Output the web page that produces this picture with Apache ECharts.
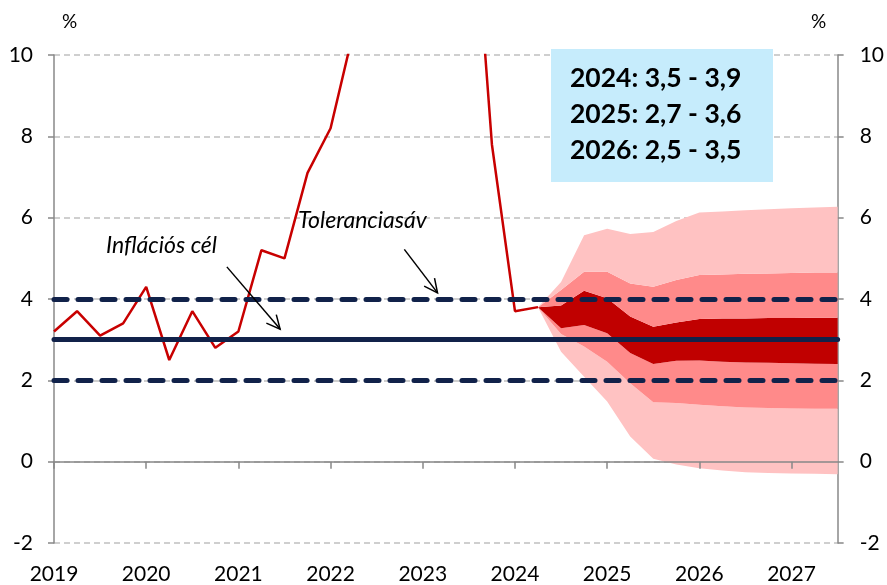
<!DOCTYPE html>
<html><head><meta charset="utf-8">
<script src="https://cdn.jsdelivr.net/npm/echarts@6.0.0/dist/echarts.min.js"></script>
<style>html,body{margin:0;padding:0;background:#fff}#c{width:887px;height:585px}</style>
</head><body><div id="c"></div>
<script>
// ---- Data ----
const categories = [
  '2019Q1','2019Q2','2019Q3','2019Q4','2020Q1','2020Q2','2020Q3','2020Q4',
  '2021Q1','2021Q2','2021Q3','2021Q4','2022Q1','2022Q2','2022Q3','2022Q4',
  '2023Q1','2023Q2','2023Q3','2023Q4','2024Q1','2024Q2','2024Q3','2024Q4',
  '2025Q1','2025Q2','2025Q3','2025Q4','2026Q1','2026Q2','2026Q3','2026Q4',
  '2027Q1','2027Q2','2027Q3'
];
const inflation = [3.2,3.7,3.1,3.4, 4.3,2.5,3.7,2.8, 3.2,5.2,5.0,7.1, 8.2,10.6,16.5,22.7,
                   25.4,21.9,15.4,7.8, 3.7,3.8];
const fanStartIndex = 21; // 2024Q2
const outerLow  = [3.8,2.70,2.09,1.48,0.62,0.07,-0.07,-0.16,-0.22,-0.26,-0.28,-0.29,-0.30,-0.31];
const midLow    = [3.8,3.14,2.83,2.46,1.93,1.46,1.44,1.40,1.36,1.33,1.32,1.31,1.30,1.30];
const darkLow   = [3.8,3.28,3.36,3.16,2.67,2.40,2.48,2.49,2.46,2.44,2.43,2.42,2.41,2.40];
const darkHigh  = [3.8,3.84,4.20,4.02,3.57,3.32,3.42,3.51,3.52,3.52,3.53,3.53,3.54,3.54];
const midHigh   = [3.8,4.22,4.67,4.67,4.38,4.30,4.47,4.59,4.60,4.62,4.63,4.64,4.65,4.65];
const outerHigh = [3.8,4.42,5.57,5.73,5.60,5.65,5.92,6.13,6.15,6.18,6.21,6.23,6.25,6.27];
const inflationTarget = 3;
const toleranceBand = [2, 4];
const yTicks = {min: -2, max: 10, interval: 2};
const forecastText = ['2024: 3,5 - 3,9', '2025: 2,7 - 3,6', '2026: 2,5 - 3,5'];

// ---- Build ----
const N = categories.length;
const pad = arr => { const out = new Array(N).fill(null); arr.forEach((v,i)=>{ out[fanStartIndex+i]=v; }); return out; };
const diff = (a,b) => a.map((v,i)=> +(v - b[i]).toFixed(3));
const lineData = categories.map((c,i)=> i < inflation.length ? inflation[i] : null);

const FONT = 'Lato';
const NAVY = '#11224A';
const LIGHT = '#FFC2C2', MED = '#FF8A8A', DARK = '#C00000';

function bandSeries(name, data, color) {
  return {
    name, type: 'line', stack: 'fan', stackStrategy: 'all', data: pad(data),
    symbol: 'none', lineStyle: {width: 0, opacity: 0},
    areaStyle: color ? {color, opacity: 1} : undefined,
    z: 2, silent: true, animation: false
  };
}

const chart = echarts.init(document.getElementById('c'), null, {renderer: 'canvas'});
const option = {
  animation: false,
  grid: {left: 54, right: 49, top: 55, bottom: 41},
  xAxis: [{
    type: 'category', data: categories, boundaryGap: false, z: 4,
    axisLine: {show: true, onZero: true, lineStyle: {color: '#888888', width: 1.5}},
    axisTick: {show: true, length: 7, inside: false, interval: i => i % 4 === 0, lineStyle: {color: '#888888', width: 1.5}},
    axisLabel: {show: false}, splitLine: {show: false}
  }, {
    type: 'category', data: categories, boundaryGap: false, position: 'bottom',
    axisLine: {show: false, onZero: false}, axisTick: {show: false}, splitLine: {show: false},
    axisLabel: {show: true, interval: i => i % 4 === 0, formatter: v => v.slice(0,4),
      fontFamily: FONT, fontSize: 21, color: '#000', margin: 21}
  }],
  yAxis: [{
    type: 'value', position: 'left', min: yTicks.min, max: yTicks.max, interval: yTicks.interval,
    axisLine: {show: true, lineStyle: {color: '#888888', width: 1.5}},
    axisTick: {show: true, length: 6, lineStyle: {color: '#888888', width: 1.5}},
    axisLabel: {fontFamily: FONT, fontSize: 21, color: '#000', margin: 21},
    splitLine: {show: true, lineStyle: {color: '#C0C0C0', width: 1.5, type: [6,4]}}
  }, {
    type: 'value', position: 'right', min: yTicks.min, max: yTicks.max, interval: yTicks.interval,
    axisLine: {show: true, lineStyle: {color: '#888888', width: 1.5}},
    axisTick: {show: true, length: 6, lineStyle: {color: '#888888', width: 1.5}},
    axisLabel: {fontFamily: FONT, fontSize: 21, color: '#000', margin: 22},
    splitLine: {show: false}
  }],
  series: [
    bandSeries('base', outerLow, null),
    bandSeries('outerLow', diff(midLow, outerLow), LIGHT),
    bandSeries('midLow', diff(darkLow, midLow), MED),
    bandSeries('dark', diff(darkHigh, darkLow), DARK),
    bandSeries('midHigh', diff(midHigh, darkHigh), MED),
    bandSeries('outerHigh', diff(outerHigh, midHigh), LIGHT),
    {
      name: 'Infláció', type: 'line', data: lineData, symbol: 'none', z: 3,
      lineStyle: {color: '#C80000', width: 2.5}, clip: true
    },
    {
      name: 'targets', type: 'line', data: [], z: 6, silent: true,
      markLine: {
        silent: true, symbol: 'none', label: {show: false}, animation: false,
        data: [
          {yAxis: inflationTarget, lineStyle: {color: NAVY, width: 5, type: 'solid', cap: 'round'}},
          {yAxis: toleranceBand[0], lineStyle: {color: NAVY, width: 5, type: [13, 11], cap: 'round'}},
          {yAxis: toleranceBand[1], lineStyle: {color: NAVY, width: 5, type: [13, 11], cap: 'round'}}
        ]
      }
    }
  ],
  graphic: []
};
chart.setOption(option);

// annotations anchored in data space (fractional category positions interpolated)
function P(i, v) {
  const i0 = Math.floor(i), f = i - i0;
  const a = chart.convertToPixel({xAxisIndex: 0, yAxisIndex: 0}, [i0, v]);
  const b = chart.convertToPixel({xAxisIndex: 0, yAxisIndex: 0}, [i0 + 1, v]);
  return [a[0] + (b[0] - a[0]) * f, a[1]];
}
function arrow(from, to) {
  const a = P(from[0], from[1]), b = P(to[0], to[1]);
  const ang = Math.atan2(b[1]-a[1], b[0]-a[0]);
  const L = 15, sp = 0.45;
  const l = [b[0] - L*Math.cos(ang - sp), b[1] - L*Math.sin(ang - sp)];
  const r = [b[0] - L*Math.cos(ang + sp), b[1] - L*Math.sin(ang + sp)];
  return [
    {type: 'polyline', z: 100, shape: {points: [a, b]}, style: {stroke: '#000', lineWidth: 1.5, fill: null}},
    {type: 'polyline', z: 100, shape: {points: [l, b, r]}, style: {stroke: '#000', lineWidth: 1.5, fill: null}}
  ];
}
const graphics = [
  ...arrow([7.5, 4.79], [9.81, 3.26]),
  ...arrow([15.2, 5.22], [16.64, 4.15]),
  {type: 'text', left: 106, top: 234, z: 100, style: {text: 'Inflációs cél', font: 'italic 23px Lato', fill: '#000'}},
  {type: 'text', left: 298, top: 209, z: 100, style: {text: 'Toleranciasáv', font: 'italic 23px Lato', fill: '#000'}},
  {type: 'text', left: 62, top: 12, z: 100, style: {text: '%', font: '19px Lato', fill: '#000'}},
  {type: 'text', left: 811, top: 12, z: 100, style: {text: '%', font: '19px Lato', fill: '#000'}},
  {type: 'rect', z: 90, shape: {x: 551, y: 49, width: 222, height: 133}, style: {fill: '#C6ECFC'}}
];
forecastText.forEach((t, k) => {
  graphics.push({type: 'text', z: 100, x: 570, y: 78 + k*36, style: {text: t, font: 'bold 26.5px Lato', fill: '#000', textVerticalAlign: 'middle'}});
});
chart.setOption({graphic: graphics});
</script>
</body></html>
